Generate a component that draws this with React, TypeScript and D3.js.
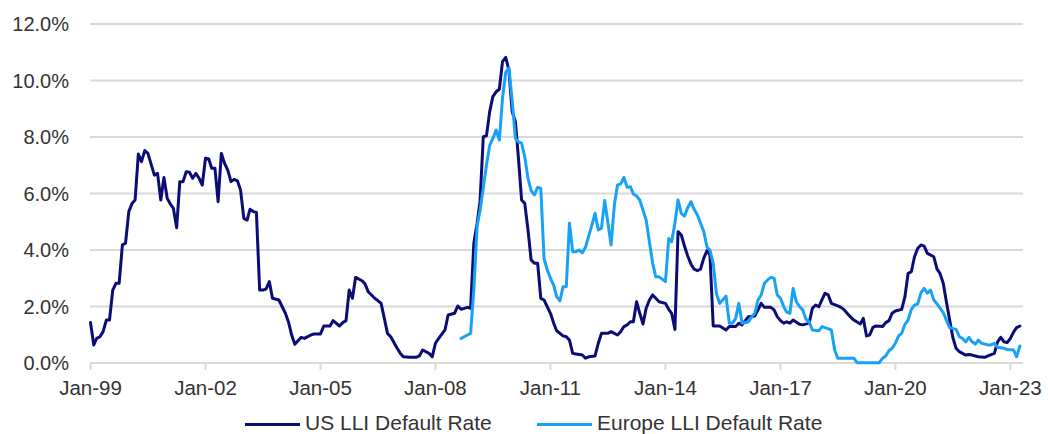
import React from "react";
import * as d3 from "d3";

// Monthly leveraged loan default rates (%), [month, rate]
const usDefaultRate: [string, number][] = [
  ["1999-01", 1.43], ["1999-02", 0.64], ["1999-03", 0.87], ["1999-04", 0.93], ["1999-05", 1.11],
  ["1999-06", 1.52], ["1999-07", 1.52], ["1999-08", 2.58], ["1999-09", 2.82], ["1999-10", 2.82],
  ["1999-11", 4.18], ["1999-12", 4.24], ["2000-01", 5.36], ["2000-02", 5.65], ["2000-03", 5.77],
  ["2000-04", 7.40], ["2000-05", 7.13], ["2000-06", 7.52], ["2000-07", 7.42], ["2000-09", 6.65],
  ["2000-10", 6.71], ["2000-11", 5.77], ["2000-12", 6.57], ["2001-01", 5.83], ["2001-02", 5.62],
  ["2001-03", 5.47], ["2001-04", 4.79], ["2001-05", 6.42], ["2001-06", 6.42], ["2001-07", 6.77],
  ["2001-08", 6.75], ["2001-09", 6.54], ["2001-10", 6.71], ["2001-11", 6.54], ["2001-12", 6.30],
  ["2002-01", 7.25], ["2002-02", 7.22], ["2002-03", 6.89], ["2002-04", 6.89], ["2002-05", 5.71],
  ["2002-06", 7.42], ["2002-07", 7.07], ["2002-08", 6.83], ["2002-09", 6.42], ["2002-10", 6.50],
  ["2002-11", 6.45], ["2002-12", 6.12], ["2003-01", 5.12], ["2003-02", 5.06], ["2003-03", 5.44],
  ["2003-04", 5.36], ["2003-05", 5.33], ["2003-06", 2.58], ["2003-07", 2.58], ["2003-08", 2.62],
  ["2003-09", 2.88], ["2003-10", 2.29], ["2003-12", 2.23], ["2004-02", 1.76], ["2004-03", 1.46],
  ["2004-04", 0.99], ["2004-05", 0.66], ["2004-07", 0.91], ["2004-08", 0.87], ["2004-10", 0.99],
  ["2004-11", 1.03], ["2005-01", 1.03], ["2005-02", 1.31], ["2005-04", 1.31], ["2005-05", 1.50],
  ["2005-07", 1.31], ["2005-08", 1.43], ["2005-09", 1.50], ["2005-10", 2.58], ["2005-11", 2.29],
  ["2005-12", 3.03], ["2006-02", 2.91], ["2006-03", 2.80], ["2006-04", 2.52], ["2006-06", 2.29],
  ["2006-07", 2.21], ["2006-08", 2.11], ["2006-09", 1.58], ["2006-10", 1.05], ["2006-11", 0.93],
  ["2007-01", 0.52], ["2007-02", 0.34], ["2007-03", 0.22], ["2007-05", 0.20], ["2007-07", 0.20],
  ["2007-08", 0.25], ["2007-09", 0.46], ["2007-11", 0.34], ["2007-12", 0.22], ["2008-01", 0.70],
  ["2008-02", 0.87], ["2008-04", 1.17], ["2008-05", 1.70], ["2008-07", 1.76], ["2008-08", 2.02],
  ["2008-09", 1.90], ["2008-11", 1.97], ["2008-12", 1.94], ["2009-01", 4.24], ["2009-02", 4.95],
  ["2009-03", 5.71], ["2009-04", 8.01], ["2009-05", 8.04], ["2009-06", 8.90], ["2009-07", 9.43],
  ["2009-08", 9.60], ["2009-09", 9.69], ["2009-10", 10.67], ["2009-11", 10.82], ["2009-12", 10.37],
  ["2010-01", 8.90], ["2010-02", 8.54], ["2010-03", 7.30], ["2010-04", 5.77], ["2010-05", 5.65],
  ["2010-06", 4.71], ["2010-07", 3.65], ["2010-08", 3.53], ["2010-09", 3.53], ["2010-10", 2.29],
  ["2010-11", 2.23], ["2011-01", 1.76], ["2011-02", 1.41], ["2011-03", 1.14], ["2011-05", 0.96],
  ["2011-06", 0.93], ["2011-07", 0.81], ["2011-08", 0.34], ["2011-09", 0.32], ["2011-11", 0.28],
  ["2011-12", 0.17], ["2012-01", 0.22], ["2012-03", 0.25], ["2012-04", 0.70], ["2012-05", 1.05],
  ["2012-07", 1.05], ["2012-08", 1.11], ["2012-10", 0.99], ["2012-11", 1.11], ["2012-12", 1.29],
  ["2013-01", 1.35], ["2013-02", 1.46], ["2013-03", 1.46], ["2013-04", 2.17], ["2013-05", 1.76],
  ["2013-06", 1.38], ["2013-07", 1.94], ["2013-08", 2.23], ["2013-09", 2.41], ["2013-10", 2.29],
  ["2013-11", 2.17], ["2014-01", 2.11], ["2014-02", 1.90], ["2014-03", 1.76], ["2014-04", 1.19],
  ["2014-05", 4.65], ["2014-06", 4.53], ["2014-07", 4.14], ["2014-08", 3.79], ["2014-09", 3.50],
  ["2014-10", 3.32], ["2014-11", 3.27], ["2014-12", 3.32], ["2015-01", 3.71], ["2015-02", 3.98],
  ["2015-03", 3.82], ["2015-04", 1.31], ["2015-06", 1.31], ["2015-08", 1.17], ["2015-09", 1.29],
  ["2015-11", 1.29], ["2015-12", 1.41], ["2016-01", 1.35], ["2016-03", 1.64], ["2016-05", 1.66],
  ["2016-06", 1.88], ["2016-07", 2.11], ["2016-08", 1.97], ["2016-10", 1.97], ["2016-11", 1.88],
  ["2016-12", 1.64], ["2017-01", 1.50], ["2017-02", 1.41], ["2017-03", 1.46], ["2017-04", 1.41],
  ["2017-05", 1.52], ["2017-07", 1.37], ["2017-08", 1.35], ["2017-10", 1.41], ["2017-11", 1.94],
  ["2017-12", 2.05], ["2018-01", 1.99], ["2018-03", 2.47], ["2018-04", 2.41], ["2018-05", 2.11],
  ["2018-07", 2.02], ["2018-08", 1.97], ["2018-09", 1.88], ["2018-11", 1.62], ["2018-12", 1.52],
  ["2019-01", 1.45], ["2019-02", 1.38], ["2019-03", 1.58], ["2019-04", 0.96], ["2019-05", 0.99],
  ["2019-06", 1.26], ["2019-07", 1.31], ["2019-09", 1.29], ["2019-10", 1.43], ["2019-11", 1.50],
  ["2019-12", 1.76], ["2020-01", 1.84], ["2020-03", 1.90], ["2020-04", 2.35], ["2020-05", 3.17],
  ["2020-06", 3.23], ["2020-07", 3.76], ["2020-08", 4.06], ["2020-09", 4.18], ["2020-10", 4.14],
  ["2020-11", 3.88], ["2021-01", 3.76], ["2021-02", 3.32], ["2021-03", 3.17], ["2021-04", 2.82],
  ["2021-05", 2.17], ["2021-06", 1.52], ["2021-07", 0.91], ["2021-08", 0.52], ["2021-09", 0.40],
  ["2021-11", 0.28], ["2021-12", 0.30], ["2022-01", 0.28], ["2022-03", 0.22], ["2022-05", 0.20],
  ["2022-06", 0.25], ["2022-08", 0.34], ["2022-09", 0.75], ["2022-10", 0.91], ["2022-11", 0.75],
  ["2022-12", 0.72], ["2023-01", 0.87], ["2023-02", 1.10], ["2023-03", 1.25], ["2023-04", 1.31],
];

const europeDefaultRate: [string, number][] = [
  ["2008-09", 0.87], ["2008-11", 0.99], ["2008-12", 1.05], ["2009-01", 2.60], ["2009-02", 4.85],
  ["2009-03", 5.40], ["2009-04", 6.20], ["2009-05", 7.00], ["2009-06", 7.70], ["2009-07", 7.95],
  ["2009-08", 8.25], ["2009-09", 7.89], ["2009-10", 9.37], ["2009-11", 10.30], ["2009-12", 10.45],
  ["2010-01", 9.30], ["2010-02", 7.95], ["2010-03", 7.83], ["2010-04", 7.78], ["2010-05", 7.30],
  ["2010-06", 6.54], ["2010-07", 6.10], ["2010-08", 5.95], ["2010-09", 6.22], ["2010-10", 6.18],
  ["2010-11", 3.70], ["2010-12", 3.30], ["2011-01", 3.00], ["2011-02", 2.75], ["2011-03", 2.35],
  ["2011-04", 2.20], ["2011-05", 2.70], ["2011-06", 2.70], ["2011-07", 4.95], ["2011-08", 3.94],
  ["2011-09", 3.94], ["2011-10", 4.00], ["2011-11", 3.90], ["2011-12", 4.10], ["2012-01", 4.50],
  ["2012-02", 4.90], ["2012-03", 5.30], ["2012-04", 4.71], ["2012-05", 4.77], ["2012-06", 5.75],
  ["2012-08", 4.18], ["2012-09", 5.60], ["2012-10", 6.30], ["2012-11", 6.34], ["2012-12", 6.57],
  ["2013-01", 6.22], ["2013-02", 6.24], ["2013-03", 5.98], ["2013-04", 5.91], ["2013-05", 5.77],
  ["2013-07", 5.06], ["2013-08", 4.29], ["2013-09", 3.53], ["2013-10", 3.05], ["2013-11", 3.05],
  ["2014-01", 2.88], ["2014-02", 4.41], ["2014-03", 4.29], ["2014-04", 4.95], ["2014-05", 5.77],
  ["2014-06", 5.30], ["2014-07", 5.20], ["2014-08", 5.50], ["2014-09", 5.71], ["2014-10", 5.44],
  ["2014-11", 5.24], ["2014-12", 4.95], ["2015-01", 4.65], ["2015-02", 4.10], ["2015-03", 4.00],
  ["2015-04", 3.53], ["2015-05", 2.47], ["2015-06", 2.11], ["2015-08", 2.37], ["2015-09", 1.41],
  ["2015-10", 1.41], ["2015-11", 1.58], ["2015-12", 2.11], ["2016-01", 1.41], ["2016-03", 1.45],
  ["2016-04", 1.64], ["2016-05", 1.76], ["2016-06", 2.23], ["2016-07", 2.41], ["2016-08", 2.82],
  ["2016-09", 2.94], ["2016-10", 3.03], ["2016-11", 3.00], ["2016-12", 2.41], ["2017-01", 2.29],
  ["2017-02", 1.99], ["2017-03", 1.80], ["2017-04", 1.76], ["2017-05", 2.64], ["2017-06", 2.17],
  ["2017-07", 2.00], ["2017-08", 1.88], ["2017-09", 1.55], ["2017-10", 1.46], ["2017-11", 1.17],
  ["2018-01", 1.14], ["2018-02", 1.29], ["2018-03", 1.25], ["2018-05", 1.17], ["2018-06", 0.46],
  ["2018-07", 0.17], ["2018-12", 0.17], ["2019-01", 0.01], ["2019-08", 0.01], ["2019-09", 0.17],
  ["2019-10", 0.25], ["2019-11", 0.44], ["2019-12", 0.52], ["2020-01", 0.70], ["2020-02", 0.96],
  ["2020-03", 1.05], ["2020-04", 1.37], ["2020-05", 1.52], ["2020-06", 1.90], ["2020-07", 2.05],
  ["2020-08", 2.09], ["2020-09", 2.49], ["2020-10", 2.64], ["2020-11", 2.47], ["2020-12", 2.58],
  ["2021-01", 2.23], ["2021-02", 2.09], ["2021-03", 1.94], ["2021-04", 1.78], ["2021-05", 1.52],
  ["2021-06", 1.25], ["2021-08", 1.19], ["2021-09", 0.93], ["2021-10", 0.87], ["2021-11", 0.75],
  ["2021-12", 0.91], ["2022-01", 0.75], ["2022-02", 0.67], ["2022-03", 0.81], ["2022-04", 0.70],
  ["2022-06", 0.64], ["2022-07", 0.64], ["2022-08", 0.70], ["2022-09", 0.56], ["2022-11", 0.52],
  ["2022-12", 0.48], ["2023-02", 0.46], ["2023-03", 0.22], ["2023-04", 0.60],
];

const tickYears = [1999, 2002, 2005, 2008, 2011, 2014, 2017, 2020, 2023];
const yTicks = [0, 2, 4, 6, 8, 10, 12];

const seriesNames = ["US LLI Default Rate", "Europe LLI Default Rate"];
const seriesColors = ["#0c0c76", "#18a2f7"];

const W = 1048;
const H = 434;
const FONT = "'Liberation Sans', Arial, Helvetica, sans-serif";

const parseMonth = d3.utcParse("%Y-%m");
const fmtTick = d3.utcFormat("%b-%y");
const fmtPct = d3.format(".1f");

export default function App() {
  const x = d3
    .scaleUtc()
    .domain([Date.UTC(1999, 0, 1), Date.UTC(2023, 4, 1)])
    .range([90.5, 1023]);
  const y = d3.scaleLinear().domain([0, 12]).range([363, 24]);

  const line = d3
    .line<[string, number]>()
    .x((d) => x(parseMonth(d[0]) as Date))
    .y((d) => y(d[1]));

  const series = [usDefaultRate, europeDefaultRate];
  const legendX = [245, 537];

  return (
    <svg
      width={W}
      height={H}
      viewBox={`0 0 ${W} ${H}`}
      style={{ position: "absolute", left: 0, top: 0, background: "#ffffff" }}
      fontFamily={FONT}
    >
      {/* horizontal gridlines */}
      {yTicks.map((t) => (
        <line
          key={`g${t}`}
          x1={90}
          x2={1023}
          y1={y(t)}
          y2={y(t)}
          stroke="#d9d9d9"
          strokeWidth={2}
        />
      ))}
      {/* y labels */}
      {yTicks.map((t) => (
        <text
          key={`yl${t}`}
          x={69}
          y={y(t)}
          dy="0.36em"
          textAnchor="end"
          fontSize={20}
          fill="#333333"
        >
          {fmtPct(t)}%
        </text>
      ))}
      {/* x ticks and labels */}
      {tickYears.map((yr) => {
        const px = x(Date.UTC(yr, 0, 1));
        return (
          <g key={`x${yr}`}>
            <line x1={px} x2={px} y1={363} y2={370} stroke="#d9d9d9" strokeWidth={2} />
            <text x={px} y={395} textAnchor="middle" fontSize={20.5} fill="#333333">
              {fmtTick(new Date(Date.UTC(yr, 0, 1)))}
            </text>
          </g>
        );
      })}
      {/* series lines */}
      {series.map((s, i) => (
        <path
          key={seriesNames[i]}
          d={line(s) ?? ""}
          fill="none"
          stroke={seriesColors[i]}
          strokeWidth={3}
          strokeLinejoin="round"
          strokeLinecap="round"
        />
      ))}
      {/* legend */}
      {seriesNames.map((name, i) => (
        <g key={`lg${i}`} transform={`translate(${legendX[i]},0)`}>
          <line x1={0} x2={55} y1={424.5} y2={424.5} stroke={seriesColors[i]} strokeWidth={3} />
          <text x={60} y={429.5} fontSize={21} fill="#333333">
            {name}
          </text>
        </g>
      ))}
    </svg>
  );
}
